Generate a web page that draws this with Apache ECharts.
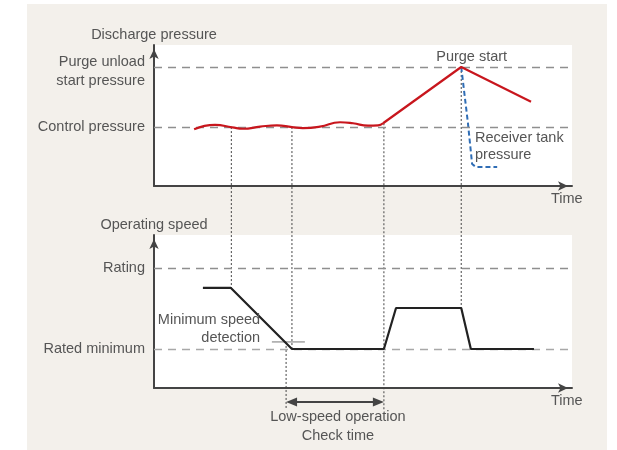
<!DOCTYPE html>
<html><head><meta charset="utf-8">
<script src="https://cdn.jsdelivr.net/npm/echarts@6/dist/echarts.min.js"></script>
<style>
html,body{margin:0;padding:0;background:#fff;width:617px;height:450px;overflow:hidden}
#c{position:absolute;left:27px;top:4px;width:580px;height:446px;background:#f3f0eb}
</style>
</head><body><div id="c"></div>
<script>
// ---------------- data (arbitrary units 0..100) ----------------
const pressureTickValues = [84.4, 41.8];
const pressureTickLabels = ['Purge unload\nstart pressure', 'Control pressure'];
const speedTickValues = [78.4, 25.5];
const speedTickLabels = ['Rating', 'Rated minimum'];

const waveTime     = [9.6, 14.6, 18.7, 21.3, 25.4, 29.4, 33.0, 35.6, 39.7, 44.5, 47.6, 51.2, 53.6, 54.8];
const wavePressure = [40.2, 43.3, 41.6, 40.6, 42.1, 43.0, 41.8, 41.1, 42.1, 45.2, 44.5, 42.8, 43.0, 44.5];
const rampTime     = [54.8, 73.5, 90.2];
const rampPressure = [44.5, 84.4, 59.8];
const receiverTime     = [73.5, 75.1, 76.1, 77.0, 82.1];
const receiverPressure = [84.4, 44.7, 15.6, 13.5, 13.5];

const speedTime  = [11.7, 18.4, 33.0, 55.0, 57.9, 73.5, 75.8, 90.9];
const speedValue = [65.4, 65.4, 25.5, 25.5, 52.3, 52.3, 25.5, 25.5];
const detectTime  = [28.2, 36.1];
const detectSpeed = [30.1, 30.1];

// event markers (dotted verticals): time, pressure where it starts (null = starts in speed panel), speed range
const markerTime          = [18.5, 33.0, 55.0, 73.5, 31.6];
const markerPressureStart = [41.8, 41.8, 44.5, 84.4, null];
const markerSpeedStart    = [null, null, null, null, 30.1];
const markerSpeedEnd      = [65.4, 25.5, -14.4, 52.3, -14.4];

// check-time arrow
const checkStart = 31.6, checkEnd = 55.0, checkLevel = -9.2;

// ---------------- chart ----------------
const FONT = '"Liberation Sans", Arial, sans-serif';
const TXT = '#555';
const FS = 14.5;
const zip = (a, b) => a.map((v, i) => [v, b[i]]);

function xAxisOpt(gi) {
  return {
    gridIndex: gi, type: 'value', min: 0, max: 100,
    axisLine: { show: true, symbol: ['none', 'arrow'], symbolSize: [7, 10], symbolOffset: [0, -4],
      lineStyle: { color: '#444', width: 2 } },
    axisTick: { show: false }, axisLabel: { show: false }, splitLine: { show: false },
    name: 'Time', nameLocation: 'end', nameGap: -21,
    nameTextStyle: { color: TXT, fontSize: FS, fontFamily: FONT, verticalAlign: 'top', lineHeight: 25 }
  };
}
function yAxisOpt(gi, name, vals, labels) {
  return {
    gridIndex: gi, type: 'value', min: 0, max: 100,
    axisLine: { show: true, symbol: ['none', 'arrow'], symbolSize: [7, 10], symbolOffset: [0, -4],
      lineStyle: { color: '#444', width: 2 } },
    axisTick: { show: false }, splitLine: { show: false },
    axisLabel: {
      show: true, customValues: vals, margin: 9,
      color: TXT, fontSize: FS, fontFamily: FONT, lineHeight: 19,
      formatter: function (v) {
        let i = vals.findIndex(x => Math.abs(x - v) < 1e-6);
        if (i < 0) return '';
        const lab = labels[i];
        if (lab.indexOf('\n') >= 0) {
          return '{g| }\n' + lab.split('\n').map(l => '{t|' + l + '}').join('\n');
        }
        return lab;
      },
      rich: {
        g: { fontSize: 2, lineHeight: 9 },
        t: { color: TXT, fontSize: FS, fontFamily: FONT, lineHeight: 19, align: 'right' }
      }
    },
    name: name, nameLocation: 'end', nameGap: 3,
    nameTextStyle: { color: TXT, fontSize: FS, fontFamily: FONT }
  };
}
function refLines(vals, colors) {
  return {
    silent: true, symbol: ['none', 'none'], label: { show: false }, animation: false,
    data: vals.map((v, i) => ({ yAxis: v, lineStyle: { color: colors[i], width: 1.4, type: [8, 6] } }))
  };
}

const chart = echarts.init(document.getElementById('c'), null, { renderer: 'canvas' });
chart.setOption({
  animation: false,
  grid: [
    { left: 127, top: 41, width: 418, height: 141, show: true, backgroundColor: '#fff', borderWidth: 0 },
    { left: 127, top: 231, width: 418, height: 153, show: true, backgroundColor: '#fff', borderWidth: 0 }
  ],
  xAxis: [xAxisOpt(0), xAxisOpt(1)],
  yAxis: [
    yAxisOpt(0, 'Discharge pressure', pressureTickValues, pressureTickLabels),
    yAxisOpt(1, 'Operating speed', speedTickValues, speedTickLabels)
  ],
  series: [
    { type: 'line', xAxisIndex: 0, yAxisIndex: 0, data: zip(waveTime, wavePressure), smooth: 0.5,
      showSymbol: false, lineStyle: { color: '#c8161d', width: 2.2 }, z: 5,
      markLine: refLines(pressureTickValues, ['#8f8f8f', '#8f8f8f']) },
    { type: 'line', xAxisIndex: 0, yAxisIndex: 0, data: zip(rampTime, rampPressure),
      showSymbol: false, lineStyle: { color: '#c8161d', width: 2.2 }, z: 5 },
    { type: 'line', xAxisIndex: 0, yAxisIndex: 0, data: zip(receiverTime, receiverPressure),
      showSymbol: false, lineStyle: { color: '#2f6db5', width: 2, type: [5, 3] }, z: 4 },
    { type: 'line', xAxisIndex: 1, yAxisIndex: 1, data: zip(speedTime, speedValue),
      showSymbol: false, lineStyle: { color: '#222', width: 2.2 }, z: 5,
      markLine: refLines(speedTickValues, ['#8f8f8f', '#a8a8a8']) },
    { type: 'line', xAxisIndex: 1, yAxisIndex: 1, data: zip(detectTime, detectSpeed),
      showSymbol: false, lineStyle: { color: '#777', width: 1 }, z: 4 }
  ]
});

// ---------------- overlays positioned through the axes ----------------
const px = (gi, pt) => chart.convertToPixel({ gridIndex: gi }, pt);
const elements = [];
markerTime.forEach((t, i) => {
  let p1 = markerPressureStart[i] != null ? px(0, [t, markerPressureStart[i]]) : px(1, [t, markerSpeedStart[i]]);
  let p2 = px(1, [t, markerSpeedEnd[i]]);
  elements.push({ type: 'line', silent: true, z: 3,
    shape: { x1: p1[0], y1: p1[1], x2: p2[0], y2: p2[1] },
    style: { stroke: '#444', lineWidth: 1, lineDash: [2, 2] } });
});
const a1 = px(1, [checkStart, checkLevel]), a2 = px(1, [checkEnd, checkLevel]);
elements.push({ type: 'line', silent: true, shape: { x1: a1[0] + 6, y1: a1[1], x2: a2[0] - 6, y2: a2[1] },
  style: { stroke: '#444', lineWidth: 2 } });
elements.push({ type: 'polygon', silent: true, shape: { points: [[a1[0], a1[1]], [a1[0] + 11, a1[1] - 4.5], [a1[0] + 11, a1[1] + 4.5]] },
  style: { fill: '#444' } });
elements.push({ type: 'polygon', silent: true, shape: { points: [[a2[0], a2[1]], [a2[0] - 11, a2[1] - 4.5], [a2[0] - 11, a2[1] + 4.5]] },
  style: { fill: '#444' } });

const annotations = [
  { text: 'Purge start', grid: 0, at: [76.0, 91.5], align: 'center', lh: 18 },
  { text: 'Receiver tank\npressure', grid: 0, at: [76.8, 28.0], align: 'left', lh: 17 },
  { text: 'Minimum speed\ndetection', grid: 1, at: [25.4, 38.6], align: 'right', lh: 18 },
  { text: 'Low-speed operation\nCheck time', grid: 1, at: [44.0, -25.2], align: 'center', lh: 19 }
];
annotations.forEach(a => {
  const p = px(a.grid, a.at);
  elements.push({ type: 'text', silent: true, z: 10, x: p[0], y: p[1],
    style: { text: a.text, fill: TXT, fontSize: FS, fontFamily: FONT, align: a.align, verticalAlign: 'middle', lineHeight: a.lh } });
});
chart.setOption({ graphic: { elements: elements } });
</script>
</body></html>
